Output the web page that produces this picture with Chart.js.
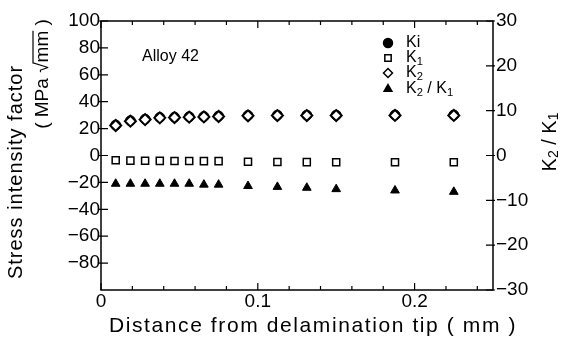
<!DOCTYPE html>
<html>
<head>
<meta charset="utf-8">
<script src="https://cdn.jsdelivr.net/npm/chart.js@4.4.1/dist/chart.umd.min.js"></script>
<style>
  body { margin: 0; background: #fff; }
  #wrap { width: 561px; height: 343px; }
</style>
</head>
<body>
<div id="wrap"><canvas id="sif-chart"></canvas></div>
<script>
// distance from delamination tip (mm)
const distance = [0.009375, 0.01875, 0.028125, 0.0375, 0.046875, 0.05625, 0.065625, 0.075,
                  0.09375, 0.1125, 0.13125, 0.15, 0.1875, 0.225];
// stress intensity factors (MPa sqrt(mm))
const kI = [22.6, 25.8, 27.0, 28.3, 28.5, 28.8, 29.0, 29.3, 29.8, 30.0, 30.0, 30.0, 30.1, 30.1];
const k1 = [-3.5, -3.8, -3.9, -4.0, -4.1, -4.1, -4.2, -4.2, -4.6, -4.8, -4.9, -5.0, -5.0, -5.0];
const k2 = [22.3, 25.5, 26.7, 28.0, 28.2, 28.5, 28.7, 29.0, 29.5, 29.7, 29.7, 29.7, 29.8, 29.8];
// ratio, right axis
const k2OverK1 = [-6.3, -6.3, -6.3, -6.3, -6.3, -6.3, -6.5, -6.5, -6.8, -7.0, -7.2, -7.5, -7.8, -8.1];

const xTickValues = [0, 0.1, 0.2];
const leftTickValues = [-80, -60, -40, -20, 0, 20, 40, 60, 80, 100];
const rightTickValues = [-30, -20, -10, 0, 10, 20, 30];
const legendNames = ['Ki', 'K_1', 'K_2', 'K_2 / K_1'];
const legendStyles = ['circle', 'rect', 'rectRot', 'triangle'];

const FONT = '"Liberation Sans", Arial, sans-serif';

function fmt(v) {
    return v < 0 ? '\u2212' + Math.abs(v) : String(v);
}

function pts(ys) {
    return distance.map((d, i) => ({ x: d, y: ys[i] }));
}

// draws text where "_c" makes c a subscript, returns width
function drawRich(ctx, text, x, y, size, measureOnly) {
    let cx = x;
    for (let i = 0; i < text.length; i++) {
        let sub = false, ch = text[i];
        if (ch === '_') { sub = true; ch = text[++i]; }
        ctx.font = (sub ? size * 0.7 : size) + 'px ' + FONT;
        if (!measureOnly) ctx.fillText(ch, cx, sub ? y + size * 0.22 : y);
        cx += ctx.measureText(ch).width;
    }
    return cx - x;
}

const decorations = {
    id: 'decorations',
    afterDraw(chart) {
        const ctx = chart.ctx;
        const ca = chart.chartArea;
        const sx = chart.scales.x, yl = chart.scales.y, yr = chart.scales.y2;
        ctx.save();
        ctx.strokeStyle = '#000';
        ctx.fillStyle = '#000';
        ctx.lineWidth = 1.5;
        ctx.strokeRect(ca.left, ca.top, ca.right - ca.left, ca.bottom - ca.top);

        // inward ticks
        ctx.lineWidth = 1.2;
        ctx.beginPath();
        for (let i = 0; i <= 12; i++) {
            const px = sx.getPixelForValue(i * 0.02);
            const len = i % 5 === 0 ? 7 : 4;
            ctx.moveTo(px, ca.bottom); ctx.lineTo(px, ca.bottom - len);
            ctx.moveTo(px, ca.top); ctx.lineTo(px, ca.top + len);
        }
        leftTickValues.forEach(v => {
            const py = yl.getPixelForValue(v);
            ctx.moveTo(ca.left - 2, py); ctx.lineTo(ca.left + 7, py);
        });
        rightTickValues.forEach(v => {
            const py = yr.getPixelForValue(v);
            ctx.moveTo(ca.right + 2, py); ctx.lineTo(ca.right - 7, py);
        });
        ctx.stroke();

        // annotation
        ctx.textBaseline = 'middle';
        ctx.textAlign = 'left';
        ctx.font = '16px ' + FONT;
        ctx.fillText('Alloy 42', 142, 57);

        // legend
        const rowY = [43, 58, 73, 89];
        legendNames.forEach((name, i) => {
            const filled = legendStyles[i] === 'circle' || legendStyles[i] === 'triangle';
            ctx.fillStyle = filled ? '#000' : '#fff';
            ctx.strokeStyle = '#000';
            ctx.lineWidth = 1.5;
            Chart.helpers.drawPoint(ctx, { pointStyle: legendStyles[i], radius: 4.5, borderWidth: 1.5, rotation: 0 }, 388, rowY[i]);
            ctx.fillStyle = '#000';
            drawRich(ctx, name, 406, rowY[i], 16);
        });

        // left axis title
        ctx.save();
        ctx.translate(16, 172);
        ctx.rotate(-Math.PI / 2);
        ctx.textAlign = 'center';
        ctx.font = '20px ' + FONT;
        ctx.letterSpacing = '1px';
        ctx.fillText('Stress intensity factor', 0, 0);
        ctx.restore();

        ctx.save();
        ctx.translate(43, 74);
        ctx.rotate(-Math.PI / 2);
        ctx.textAlign = 'left';
        ctx.font = '19px ' + FONT;
        const a = '( MPa ', r = '\u221A', m = 'mm', b = ' )';
        const wa = ctx.measureText(a).width, wr = ctx.measureText(r).width;
        const wm = ctx.measureText(m).width, wb = ctx.measureText(b).width;
        let cx = -(wa + wr + wm + wb) / 2;
        ctx.fillText(a, cx, 0); cx += wa;
        ctx.fillText(r, cx, 0); cx += wr;
        ctx.fillText(m, cx, 0);
        ctx.lineWidth = 1.2;
        ctx.beginPath();
        ctx.moveTo(cx - 1, -10); ctx.lineTo(cx + wm, -10);
        ctx.stroke();
        cx += wm;
        ctx.fillText(b, cx, 0);
        ctx.restore();

        // right axis title
        ctx.save();
        ctx.translate(550, 142);
        ctx.rotate(-Math.PI / 2);
        ctx.textAlign = 'left';
        const rt = 'K_2 / K_1';
        const w = drawRich(ctx, rt, 0, 0, 20, true);
        drawRich(ctx, rt, -w / 2, 0, 20);
        ctx.restore();

        // x axis title
        ctx.textAlign = 'center';
        ctx.font = '21px ' + FONT;
        ctx.letterSpacing = '1.6px';
        ctx.fillText('Distance from delamination tip ( mm )', 313, 326);
        ctx.restore();
    }
};

new Chart(document.getElementById('sif-chart'), {
    type: 'scatter',
    data: {
        datasets: [
            {
                label: 'K2', data: pts(k2), yAxisID: 'y', order: 1,
                pointStyle: 'rectRot', pointRadius: 5.5, borderWidth: 2,
                borderColor: '#000', backgroundColor: '#fff'
            },
            {
                label: 'Ki', data: pts(kI), yAxisID: 'y', order: 3,
                pointStyle: 'circle', pointRadius: 5, borderWidth: 1,
                borderColor: '#000', backgroundColor: '#000'
            },
            {
                label: 'K1', data: pts(k1), yAxisID: 'y', order: 2,
                pointStyle: 'rect', pointRadius: 5, borderWidth: 1.5,
                borderColor: '#000', backgroundColor: '#fff'
            },
            {
                label: 'K2/K1', data: pts(k2OverK1), yAxisID: 'y2', order: 2,
                pointStyle: 'triangle', pointRadius: 5, borderWidth: 1,
                borderColor: '#000', backgroundColor: '#000'
            }
        ]
    },
    options: {
        responsive: true,
        maintainAspectRatio: false,
        animation: false,
        layout: { padding: { top: 21, left: 0, right: 0, bottom: 0 } },
        plugins: { legend: { display: false }, tooltip: { enabled: false } },
        scales: {
            x: {
                type: 'linear', min: 0, max: 0.25,
                afterBuildTicks: s => { s.ticks = xTickValues.map(value => ({ value })); },
                afterFit: s => { s.height = 53; },
                grid: { display: false, drawTicks: false },
                border: { display: false },
                ticks: {
                    color: '#000', padding: 0, maxRotation: 0,
                    font: { family: FONT, size: 19 },
                    callback: v => String(v)
                }
            },
            y: {
                position: 'left', min: -100, max: 100,
                afterBuildTicks: s => { s.ticks = leftTickValues.map(value => ({ value })); },
                afterFit: s => { s.width = 101; },
                grid: { display: false, drawTicks: false },
                border: { display: false },
                ticks: {
                    color: '#000', padding: 1,
                    font: { family: FONT, size: 19 },
                    callback: fmt
                }
            },
            y2: {
                position: 'right', min: -30, max: 30,
                afterBuildTicks: s => { s.ticks = rightTickValues.map(value => ({ value })); },
                afterFit: s => { s.width = 68; },
                grid: { display: false, drawTicks: false },
                border: { display: false },
                ticks: {
                    color: '#000', padding: 3,
                    font: { family: FONT, size: 19 },
                    callback: fmt
                }
            }
        }
    },
    plugins: [decorations]
});
</script>
</body>
</html>
